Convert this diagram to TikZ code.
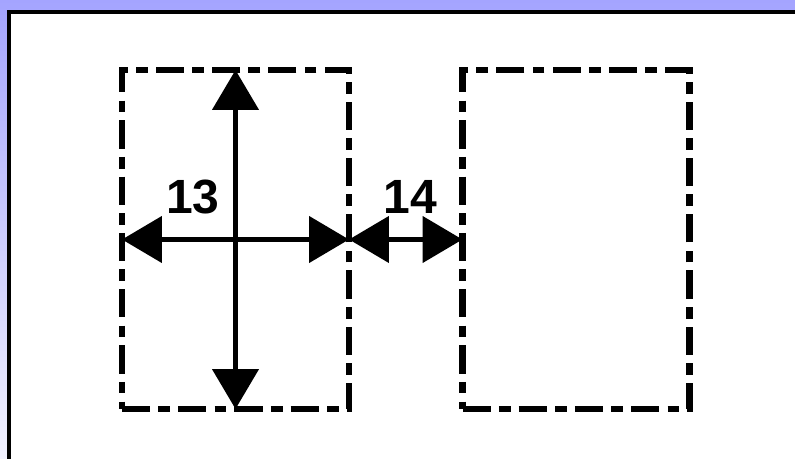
\documentclass[tikz,border=0pt]{standalone}
\usepackage{fontspec}
\setmainfont{Liberation Sans}
\usetikzlibrary{arrows.meta}
\definecolor{panelbg}{HTML}{A4A4FF}
\definecolor{panelfade}{HTML}{F2F2FF}

\begin{document}
\begin{tikzpicture}[x=0.03cm,y=-0.03cm,
    dashbox/.style={draw,line width=5.8pt,dash pattern={on 24pt off 7pt on 10pt off 7pt},
        minimum width=6.81cm,minimum height=10.17cm,inner sep=0pt,outer sep=0pt},
    dimarrow/.style={line width=4.3pt,{Triangle[length=34pt,width=39pt]}-{Triangle[length=34pt,width=39pt]}},
    dimlabel/.style={font=\fontsize{41}{41}\selectfont\bfseries,inner sep=0pt}]
        % frame
        \useasboundingbox (0,0) rectangle (795,459);
        \clip (0,0) rectangle (795,459);
        \shade[top color=panelbg,bottom color=panelfade] (0,0) rectangle (795,459);
        \draw[line width=3.4pt,fill=white] (9,12) rectangle (830,490);

        % boxes
        \node[dashbox] (leftbox) at (235.5,239.5) {};
        \node[dashbox] (rightbox) at (576,239.5) {};

        % dimensions
        \draw[dimarrow] (leftbox.north) -- (leftbox.south);
        \draw[dimarrow] (leftbox.west) -- (leftbox.east);
        \draw[dimarrow] (leftbox.east) -- (rightbox.west);
        \node[dimlabel] (gapA) at (193,197) {13};
        \node[dimlabel] (gapB) at (410,197) {14};
    \end{tikzpicture}
\end{document}
